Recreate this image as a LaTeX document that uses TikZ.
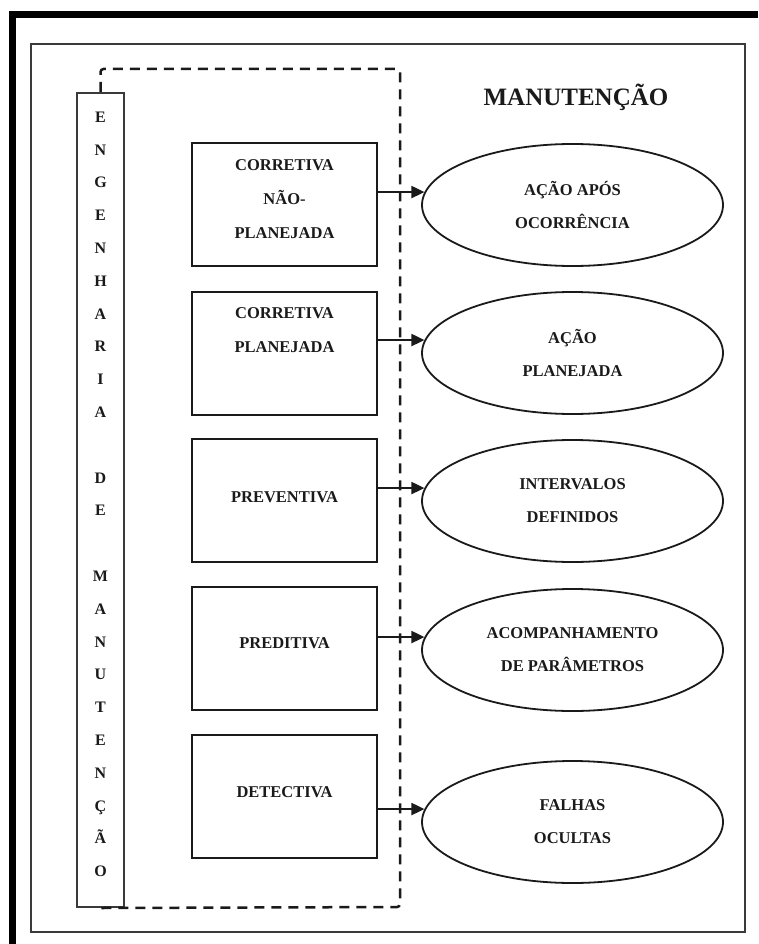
\documentclass[tikz,border=0pt]{standalone}
\usepackage{fontspec}
\setmainfont{Liberation Serif}
\usetikzlibrary{arrows.meta,shapes.geometric}
\definecolor{ink}{HTML}{1A1A1A}
\definecolor{frame}{HTML}{3A3A3A}
\tikzset{
  boxtxt/.style={font=\fontsize{16.5}{34}\selectfont\bfseries, text=ink, align=center, inner sep=0pt},
  mbox/.style={draw=ink, line width=2pt, minimum width=185pt, minimum height=123pt, inner sep=0pt},
  oval/.style={ellipse, draw=ink, line width=1.8pt, minimum width=301pt, minimum height=122pt, inner sep=0pt,
    align=center, font=\fontsize{16.5}{33}\selectfont\bfseries, text=ink},
  arr/.style={draw=ink, line width=2pt, -{Triangle[length=13pt,width=12pt]}},
  dashline/.style={draw=ink, line width=2.5pt, dash pattern=on 10pt off 7pt, rounded corners=3pt},
  vletter/.style={font=\fontsize{16}{16}\selectfont\bfseries, text=ink, anchor=base, inner sep=0pt}
}
\begin{document}
\begin{tikzpicture}[x=1pt,y=-1pt]
\useasboundingbox (0,0) rectangle (758,944);
\fill[white] (0,0) rectangle (758,944);
% outer thick frame (cropped at right and bottom)
\draw[line width=7pt] (12,944) -- (12,15) -- (758,15);
% inner frame
\draw[draw=frame, line width=2pt] (31,44) rectangle (745,932);
% title
\node[font=\fontsize{25}{30}\selectfont\bfseries, text=ink, inner sep=0pt] (title) at (576,97) {MANUTENÇÃO};
% vertical box
\node[draw=frame, line width=2pt, minimum width=47pt, minimum height=814pt, inner sep=0pt] (eng) at (100.5,500) {};
\foreach \l/\i in {E/0,N/1,G/2,E/3,N/4,H/5,A/6,R/7,I/8,A/9,D/11,E/12,M/14,A/15,N/16,U/17,T/18,E/19,N/20,Ç/21,Ã/22,O/23}
  \node[vletter] (v\i) at (100.5,{122.3+\i*32.8}) {\l};
% dashed surround
\coordinate (dtl) at (100.5,69);
\coordinate (dtr) at (400,69);
\coordinate (dbr) at (400,907);
\draw[dashline] (eng.north) -- (dtl) -- (dtr) -- (dbr) -- (eng.south);
% boxes
\node[mbox] (b1) at (284.5,204.5) {};
\node[mbox] (b2) at (284.5,353) {};
\node[mbox] (b3) at (284.5,500.5) {};
\node[mbox] (b4) at (284.5,648.5) {};
\node[mbox] (b5) at (284.5,796.5) {};
\node[boxtxt] (t1) at (284.5,199) {CORRETIVA\\NÃO-\\PLANEJADA};
\node[boxtxt] (t2) at (284.5,330.5) {CORRETIVA\\PLANEJADA};
\node[boxtxt] (t3) at (284.5,497) {PREVENTIVA};
\node[boxtxt] (t4) at (284.5,643) {PREDITIVA};
\node[boxtxt] (t5) at (284.5,792) {DETECTIVA};
% ellipses
\node[oval] (e1) at (572.5,205) {AÇÃO APÓS\\OCORRÊNCIA};
\node[oval] (e2) at (572.5,353) {AÇÃO\\PLANEJADA};
\node[oval] (e3) at (572.5,501) {INTERVALOS\\DEFINIDOS};
\node[oval] (e4) at (572.5,650) {ACOMPANHAMENTO\\DE PARÂMETROS};
\node[oval] (e5) at (572.5,822) {FALHAS\\OCULTAS};
% arrows
\foreach \k in {1,...,5}
  \draw[arr] (b\k.east |- e\k.175) -- (e\k.175);
\end{tikzpicture}
\end{document}
